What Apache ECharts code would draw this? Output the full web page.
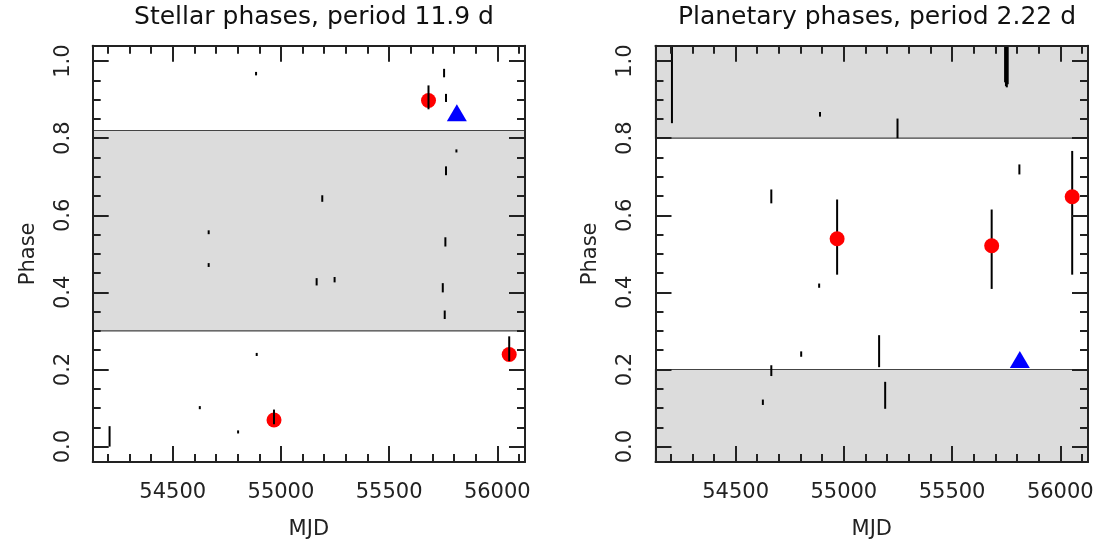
<!DOCTYPE html>
<html><head><meta charset="utf-8">
<script src="https://cdn.jsdelivr.net/npm/echarts@6/dist/echarts.min.js"></script>
<style>html,body{margin:0;padding:0;background:#fff}#c{width:1104px;height:545px}</style>
</head><body><div id="c"></div>
<script>
// ---------- data ----------
const titles = ['Stellar phases, period 11.9 d', 'Planetary phases, period 2.22 d'];
const xAxisName = 'MJD';
const yAxisName = 'Phase';
const xMajorTicks = [54500, 55000, 55500, 56000];
const xMinorTicks = [54200, 54300, 54400, 54600, 54700, 54800, 54900, 55100, 55200, 55300, 55400,
  55600, 55700, 55800, 55900, 56100];
const yMajorTicks = [0, 0.2, 0.4, 0.6, 0.8, 1.0];
const yMinorTicks = [0.05, 0.1, 0.15, 0.25, 0.3, 0.35, 0.45, 0.5, 0.55, 0.65, 0.7, 0.75, 0.85, 0.9, 0.95];
const xRange = [54130, 56128];
const yRange = [-0.04, 1.04];

// shaded phase bands [low, high]
const stellarBands = [[0.30, 0.82]];
const planetaryBands = [[-0.04, 0.20], [0.80, 1.04]];

// error bars [MJD, low phase, high phase]
const stellarErrorBars = [
  [54885, 0.963, 0.972], [55754, 0.958, 0.980], [55682, 0.875, 0.937], [55763, 0.894, 0.915],
  [55811, 0.763, 0.771], [55763, 0.704, 0.727], [55191, 0.635, 0.652], [54666, 0.551, 0.561],
  [55760, 0.519, 0.543], [54666, 0.466, 0.476], [55165, 0.418, 0.437], [55248, 0.426, 0.440],
  [55748, 0.400, 0.424], [55757, 0.331, 0.353], [56055, 0.222, 0.286], [54888, 0.235, 0.243],
  [54625, 0.097, 0.105], [54802, 0.034, 0.042], [54968, 0.058, 0.096], [54208, 0.000, 0.053]
];
const stellarRed = [[55682, 0.898], [56055, 0.239], [54968, 0.069]];
const stellarBlue = [[55813, 0.866]];

const planetaryErrorBars = [
  [54206, 0.839, 1.04], [55745, 0.945, 1.04], [55749, 0.935, 1.04], [55753, 0.932, 1.04],
  [55757, 0.940, 1.04], [54890, 0.856, 0.868], [55248, 0.800, 0.851], [55811, 0.706, 0.732],
  [54665, 0.631, 0.667], [54969, 0.446, 0.641], [55683, 0.409, 0.615], [56055, 0.446, 0.767],
  [54886, 0.412, 0.423], [55163, 0.206, 0.289], [54803, 0.233, 0.247], [54665, 0.183, 0.211],
  [55191, 0.098, 0.168], [54626, 0.108, 0.122]
];
const planetaryRed = [[54969, 0.539], [55683, 0.521], [56055, 0.648]];
const planetaryBlue = [[55813, 0.226]];

// ---------- chart ----------
const FONT = 'DejaVu Sans';
const INK = '#222';
const grids = [
  {left: 92.7, top: 45.7, width: 432.3, height: 417},
  {left: 655.5, top: 45.7, width: 432.5, height: 417}
];

function tickStyle(len, vals) {
  return {show: true, inside: true, length: len, customValues: vals, lineStyle: {color: INK, width: 2}};
}
function xAxes(g) {
  const base = {type: 'value', gridIndex: g, min: xRange[0], max: xRange[1], z: 10,
    splitLine: {show: false}, axisLine: {show: true, onZero: false, lineStyle: {color: INK, width: 2}}};
  const hidden = {show: false, onZero: false};
  return [
    Object.assign({}, base, {position: 'bottom', name: xAxisName, nameLocation: 'middle', nameGap: 57,
      nameTextStyle: {fontFamily: FONT, fontSize: 21, color: INK},
      axisTick: tickStyle(16, xMajorTicks),
      axisLabel: {show: true, customValues: xMajorTicks, margin: 20, fontFamily: FONT, fontSize: 21, color: INK,
        formatter: v => String(Math.round(v))}}),
    Object.assign({}, base, {position: 'bottom', axisLine: hidden, axisTick: tickStyle(8, xMinorTicks), axisLabel: {show: false}}),
    Object.assign({}, base, {position: 'top', axisTick: tickStyle(16, xMajorTicks), axisLabel: {show: false}}),
    Object.assign({}, base, {position: 'top', axisLine: hidden, axisTick: tickStyle(8, xMinorTicks), axisLabel: {show: false}})
  ];
}
function yAxes(g) {
  const base = {type: 'value', gridIndex: g, min: yRange[0], max: yRange[1], z: 10,
    splitLine: {show: false}, axisLine: {show: true, onZero: false, lineStyle: {color: INK, width: 2}}};
  const hidden = {show: false, onZero: false};
  return [
    Object.assign({}, base, {position: 'left', name: yAxisName, nameLocation: 'middle', nameGap: 54, nameRotate: 90,
      nameTextStyle: {fontFamily: FONT, fontSize: 21, color: INK},
      axisTick: tickStyle(16, yMajorTicks),
      axisLabel: {show: true, customValues: yMajorTicks, rotate: 90, margin: 19, fontFamily: FONT, fontSize: 21, color: INK,
        formatter: v => Number(v).toFixed(1)}}),
    Object.assign({}, base, {position: 'left', axisLine: hidden, axisTick: tickStyle(8, yMinorTicks), axisLabel: {show: false}}),
    Object.assign({}, base, {position: 'right', axisTick: tickStyle(16, yMajorTicks), axisLabel: {show: false}}),
    Object.assign({}, base, {position: 'right', axisLine: hidden, axisTick: tickStyle(8, yMinorTicks), axisLabel: {show: false}})
  ];
}

function bandRender(params, api) {
  const cs = params.coordSys;
  const yLo = api.coord([xRange[0], api.value(0)])[1];
  const yHi = api.coord([xRange[0], api.value(1)])[1];
  return {type: 'rect', shape: {x: cs.x, y: yHi, width: cs.width, height: yLo - yHi},
    style: {fill: '#dcdcdc', stroke: '#444', lineWidth: 1.2}};
}
function errRender(params, api) {
  const p1 = api.coord([api.value(0), api.value(1)]);
  const p2 = api.coord([api.value(0), api.value(2)]);
  return {type: 'line', shape: {x1: p1[0], y1: p1[1], x2: p2[0], y2: p2[1]},
    style: {stroke: '#000', lineWidth: 2}};
}

function panelSeries(g, bands, bars, red, blue, barsOnTop) {
  const xi = g * 4, yi = g * 4;
  return [
    {type: 'custom', xAxisIndex: xi, yAxisIndex: yi, data: bands, renderItem: bandRender, z: 1, silent: true,
      encode: {y: [0, 1]}},
    {type: 'custom', xAxisIndex: xi, yAxisIndex: yi, data: bars, renderItem: errRender, z: barsOnTop ? 4 : 2,
      encode: {x: 0, y: [1, 2]}, silent: true},
    {type: 'scatter', xAxisIndex: xi, yAxisIndex: yi, data: red, symbol: 'circle', symbolSize: 15,
      itemStyle: {color: '#ff0000', opacity: 1}, z: 3, silent: true},
    {type: 'scatter', xAxisIndex: xi, yAxisIndex: yi, data: blue, symbol: 'triangle', symbolSize: [20, 17],
      itemStyle: {color: '#0000ff', opacity: 1}, z: 5, silent: true}
  ];
}

const chart = echarts.init(document.getElementById('c'), null, {renderer: 'canvas'});
chart.setOption({
  animation: false,
  backgroundColor: '#fff',
  title: [
    {text: titles[0], left: 309, top: 0, textAlign: 'center',
      textStyle: {fontFamily: FONT, fontSize: 25, fontWeight: 'normal', color: '#111'}},
    {text: titles[1], left: 872, top: 0, textAlign: 'center',
      textStyle: {fontFamily: FONT, fontSize: 25, fontWeight: 'normal', color: '#111'}}
  ],
  grid: grids,
  xAxis: xAxes(0).concat(xAxes(1)),
  yAxis: yAxes(0).concat(yAxes(1)),
  series: panelSeries(0, stellarBands, stellarErrorBars, stellarRed, stellarBlue, true)
    .concat(panelSeries(1, planetaryBands, planetaryErrorBars, planetaryRed, planetaryBlue, false))
});
</script></body></html>
